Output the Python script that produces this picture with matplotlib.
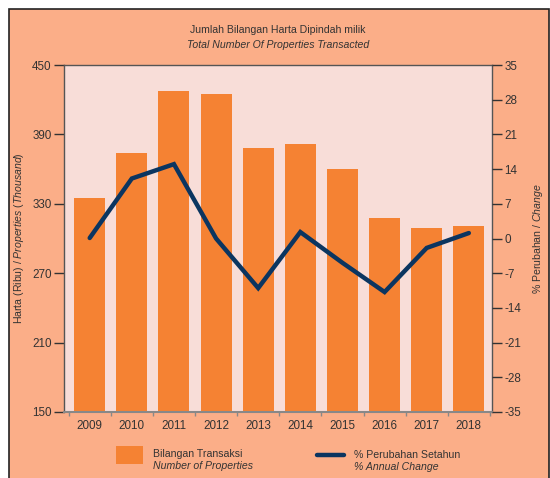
import matplotlib
matplotlib.use("Agg")
import matplotlib.pyplot as plt
from matplotlib.patches import Rectangle
from matplotlib.lines import Line2D

# Data
years = ["2009", "2010", "2011", "2012", "2013", "2014", "2015", "2016", "2017", "2018"]
transaksi = [335.4, 373.9, 427.4, 424.8, 378.0, 381.4, 359.7, 318.0, 309.4, 311.1]
perubahan = [0.1, 12.1, 15.0, 0.0, -10.0, 1.3, -4.9, -10.8, -1.9, 1.1]

left_ticks = [150, 210, 270, 330, 390, 450]
right_ticks = [-35, -28, -21, -14, -7, 0, 7, 14, 21, 28, 35]

plt.rcParams["font.family"] = ["Liberation Sans", "DejaVu Sans"]
plt.rcParams["mathtext.fontset"] = "custom"
plt.rcParams["mathtext.rm"] = "Liberation Sans"
plt.rcParams["mathtext.it"] = "Liberation Sans:italic"
plt.rcParams["axes.unicode_minus"] = False

BG = "#FBAE88"
PLOT_BG = "#F8DDD8"
ORANGE = "#F58233"
NAVY = "#0B3560"
TXT = "#333333"
FS = 7.6
TFS = 8.4

W, H = 550, 478
fig = plt.figure(figsize=(5.5, 4.78), dpi=100)
fig.patch.set_facecolor("white")


def fx(px):
    return px / W


def fy(py):
    return 1 - py / H


# outer salmon panel
fig.add_artist(Rectangle((fx(9), -0.05), fx(549) - fx(9), fy(9) + 0.05, transform=fig.transFigure,
                         facecolor=BG, edgecolor="#222222", linewidth=1.2, zorder=0))

ax = fig.add_axes([fx(64), fy(412), fx(492) - fx(64), fy(65) - fy(412)])
ax.set_facecolor(PLOT_BG)
x = list(range(len(years)))
ax.bar(x, transaksi, width=0.735, color=ORANGE, zorder=2)
ax.set_ylim(150, 450)
ax.set_xlim(-0.61, 9.55)
ax.set_yticks(left_ticks)
ax.set_xticks(x)
ax.set_xticklabels(years)
ax.set_xticks([i + 0.5 for i in range(-1, 10)], minor=True)
ax.tick_params(axis="x", which="major", length=0, pad=6, labelsize=TFS, colors=TXT)
ax.tick_params(axis="x", which="minor", length=3, color="#888888", width=1)
ax.tick_params(axis="y", length=7, width=1, color="#333333", labelsize=TFS, labelcolor=TXT, pad=2)
for s in ["left", "right", "top"]:
    ax.spines[s].set_color("#555555")
    ax.spines[s].set_linewidth(1)
ax.spines["bottom"].set_color("#888888")
ax.spines["bottom"].set_linewidth(1.5)
ax.set_ylabel(r"Harta (Ribu) / $\mathit{Properties\ (Thousand)}$", fontsize=FS, color=TXT)
ax.yaxis.set_label_coords(-0.088, 0.5)

ax2 = ax.twinx()
ax2.plot(x, perubahan, color=NAVY, linewidth=3.2, solid_capstyle="round", solid_joinstyle="miter", zorder=3)
ax2.set_ylim(-35, 35)
ax2.set_yticks(right_ticks)
ax2.tick_params(axis="y", length=7, width=1, color="#333333", labelsize=TFS, labelcolor=TXT, pad=2)
for s in ax2.spines.values():
    s.set_visible(False)
ax2.set_ylabel(r"% Perubahan / $\mathit{Change}$", fontsize=FS, color=TXT)
ax2.yaxis.set_label_coords(1.09, 0.5)

# titles
fig.text(fx(278), fy(30), "Jumlah Bilangan Harta Dipindah milik", ha="center", va="center",
         fontsize=FS, color=TXT)
fig.text(fx(278), fy(45), "Total Number Of Properties Transacted", ha="center", va="center",
         fontsize=FS, color=TXT, style="italic")

# legend
fig.add_artist(Rectangle((fx(116), fy(464)), fx(143) - fx(116), fy(446) - fy(464),
                         transform=fig.transFigure, facecolor=ORANGE, edgecolor="none"))
fig.text(fx(153), fy(454), "Bilangan Transaksi", ha="left", va="center", fontsize=FS, color=TXT)
fig.text(fx(153), fy(466), "Number of Properties", ha="left", va="center", fontsize=FS,
         color=TXT, style="italic")
fig.add_artist(Line2D([fx(317), fx(344)], [fy(455), fy(455)], transform=fig.transFigure,
                      color=NAVY, linewidth=3.2, solid_capstyle="round"))
fig.text(fx(354), fy(455), "% Perubahan Setahun", ha="left", va="center", fontsize=FS, color=TXT)
fig.text(fx(354), fy(467), "% Annual Change", ha="left", va="center", fontsize=FS,
         color=TXT, style="italic")

fig.savefig("out.png", dpi=100)
